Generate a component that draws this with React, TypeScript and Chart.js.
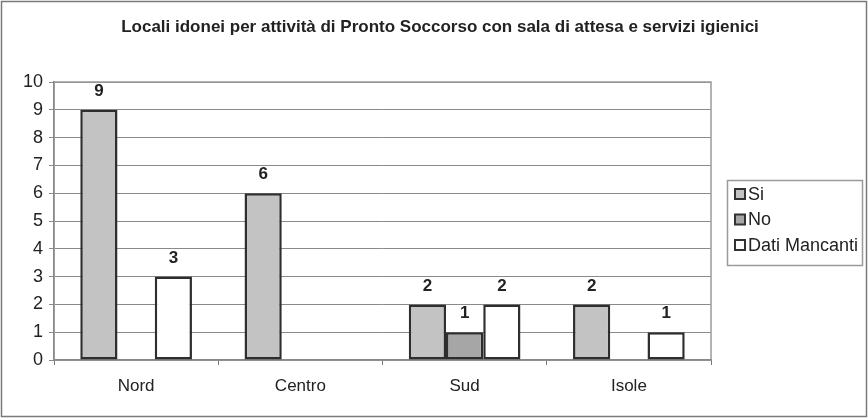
import React, { useEffect, useRef } from "react";
import { Chart, registerables } from "chart.js";

Chart.register(...registerables);

const TITLE = "Locali idonei per attività di Pronto Soccorso con sala di attesa e servizi igienici";
const CATEGORIES = ["Nord", "Centro", "Sud", "Isole"];
const SERIES_NAMES = ["Si", "No", "Dati Mancanti"];
const SI_VALUES = [9, 6, 2, 2];
const NO_VALUES = [0, 0, 1, 0];
const MANCANTI_VALUES = [3, 0, 2, 1];
const SERIES_COLORS = ["#c3c3c3", "#a6a6a6", "#ffffff"];

const FONT = "'Liberation Sans', Arial, sans-serif";

const decorPlugin = {
  id: "decor",
  beforeDraw(chart: any) {
    const { ctx, width, height } = chart;
    ctx.save();
    ctx.fillStyle = "#ffffff";
    ctx.fillRect(0, 0, width, height);
    ctx.restore();
  },
  beforeDatasetsDraw(chart: any) {
    const { ctx, chartArea } = chart;
    ctx.save();
    ctx.strokeStyle = "#9a9a9a";
    ctx.lineWidth = 1.5;
    ctx.strokeRect(chartArea.left, chartArea.top, chartArea.right - chartArea.left, chartArea.bottom - chartArea.top);
    ctx.restore();
  },
  afterDraw(chart: any) {
    const { ctx } = chart;
    ctx.save();
    // outer frame
    ctx.strokeStyle = "#7a7a7a";
    ctx.lineWidth = 1.5;
    ctx.strokeRect(1.5, 1.5, 865, 415);

    // title
    ctx.fillStyle = "#222";
    ctx.font = `bold 17px ${FONT}`;
    ctx.textAlign = "center";
    ctx.textBaseline = "middle";
    ctx.fillText(TITLE, 440, 27);

    // value labels
    ctx.font = `bold 17px ${FONT}`;
    ctx.textBaseline = "bottom";
    chart.data.datasets.forEach((ds: any, i: number) => {
      const meta = chart.getDatasetMeta(i);
      meta.data.forEach((bar: any, j: number) => {
        const v = ds.data[j];
        if (!v) return;
        ctx.fillText(String(v), bar.x, bar.y - 10);
      });
    });

    // legend
    ctx.strokeStyle = "#9a9a9a";
    ctx.lineWidth = 1.5;
    ctx.strokeRect(727.5, 180.5, 135, 85);
    ctx.font = `18px ${FONT}`;
    ctx.textAlign = "left";
    ctx.textBaseline = "middle";
    SERIES_NAMES.forEach((name, i) => {
      const y = 194 + i * 25.5;
      ctx.fillStyle = SERIES_COLORS[i];
      ctx.fillRect(735, y - 5, 10, 10);
      ctx.strokeStyle = "#333";
      ctx.lineWidth = 2;
      ctx.strokeRect(735, y - 5, 10, 10);
      ctx.fillStyle = "#222";
      ctx.fillText(name, 748, y + 1);
    });
    ctx.restore();
  },
};

export default function App() {
  const ref = useRef<HTMLCanvasElement>(null);

  useEffect(() => {
    document.body.style.margin = "0";
    const canvas = ref.current!;
    const mk = (label: string, data: number[], color: string) => ({
      label,
      data,
      backgroundColor: color,
      borderColor: "#2e2e2e",
      borderWidth: 2.5,
      borderSkipped: false,
      categoryPercentage: 0.68,
      barPercentage: 1,
    });
    const chart = new Chart(canvas, {
      type: "bar",
      data: {
        labels: CATEGORIES,
        datasets: [
          mk(SERIES_NAMES[0], SI_VALUES, SERIES_COLORS[0]),
          mk(SERIES_NAMES[1], NO_VALUES, SERIES_COLORS[1]),
          mk(SERIES_NAMES[2], MANCANTI_VALUES, SERIES_COLORS[2]),
        ],
      },
      options: {
        responsive: false,
        animation: false,
        devicePixelRatio: 1,
        layout: { padding: { left: 0, top: 82, right: 157, bottom: 0 } },
        plugins: {
          legend: { display: false },
          title: { display: false },
          tooltip: { enabled: false },
        },
        scales: {
          x: {
            offset: true,
            grid: {
              offset: true,
              drawOnChartArea: false,
              drawTicks: true,
              tickLength: 5,
              color: "#777",
            },
            border: { display: true, color: "#555", width: 1.5 },
            ticks: { color: "#222", font: { family: FONT, size: 17 }, padding: 11 },
            afterFit(scale: any) {
              scale.height = 59;
            },
          },
          y: {
            min: 0,
            max: 10,
            ticks: { stepSize: 1, color: "#222", font: { family: FONT, size: 18 }, padding: 6 },
            grid: { color: "#8a8a8a", lineWidth: 1, tickLength: 5 },
            border: { display: true, color: "#555", width: 1.5 },
            afterFit(scale: any) {
              scale.width = 54;
            },
          },
        },
      },
      plugins: [decorPlugin],
    } as any);
    return () => chart.destroy();
  }, []);

  return <canvas ref={ref} width={868} height={419} style={{ display: "block" }} />;
}
